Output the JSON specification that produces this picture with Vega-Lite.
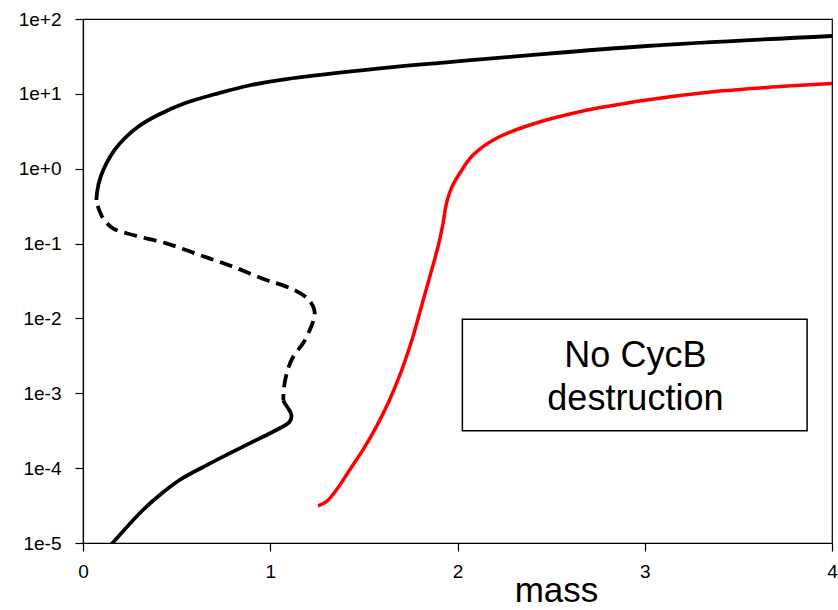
{
  "$schema": "https://vega.github.io/schema/vega-lite/v6.json",
  "width": 749,
  "height": 524,
  "autosize": {"type": "none"},
  "padding": {"left": 83, "top": 19, "right": 6, "bottom": 67},
  "background": "white",
  "config": {
    "view": {"stroke": "black", "strokeWidth": 1.2},
    "font": "Liberation Sans",
    "axis": {
      "grid": false,
      "domainColor": "black",
      "domainWidth": 1.2,
      "tickColor": "black",
      "tickWidth": 1.2,
      "tickSize": 8,
      "labelColor": "black",
      "labelFont": "Liberation Sans",
      "labelFontSize": 19,
      "labelFontWeight": "normal",
      "titleColor": "black",
      "titleFont": "Liberation Sans",
      "titleFontWeight": "normal"
    }
  },
  "data": {
    "values": [
      {"curve": "hi", "i": 1, "mass": 4.0, "cycB": 59.3},
      {"curve": "hi", "i": 2, "mass": 3.009, "cycB": 43.6},
      {"curve": "hi", "i": 3, "mass": 2.296, "cycB": 31.4},
      {"curve": "hi", "i": 4, "mass": 1.941, "cycB": 26.4},
      {"curve": "hi", "i": 5, "mass": 1.585, "cycB": 21.9},
      {"curve": "hi", "i": 6, "mass": 1.077, "cycB": 15.65},
      {"curve": "hi", "i": 7, "mass": 0.899, "cycB": 13.13},
      {"curve": "hi", "i": 8, "mass": 0.721, "cycB": 10.17},
      {"curve": "hi", "i": 9, "mass": 0.543, "cycB": 7.48},
      {"curve": "hi", "i": 10, "mass": 0.4005, "cycB": 5.22},
      {"curve": "hi", "i": 11, "mass": 0.294, "cycB": 3.64},
      {"curve": "hi", "i": 12, "mass": 0.2227, "cycB": 2.55},
      {"curve": "hi", "i": 13, "mass": 0.169, "cycB": 1.78},
      {"curve": "hi", "i": 14, "mass": 0.125, "cycB": 1.18},
      {"curve": "hi", "i": 15, "mass": 0.0945, "cycB": 0.782},
      {"curve": "hi", "i": 16, "mass": 0.0769, "cycB": 0.52},
      {"curve": "hi", "i": 17, "mass": 0.0716, "cycB": 0.382},
      {"curve": "mid", "i": 1, "mass": 0.0716, "cycB": 0.382},
      {"curve": "mid", "i": 2, "mass": 0.08, "cycB": 0.311},
      {"curve": "mid", "i": 3, "mass": 0.107, "cycB": 0.218},
      {"curve": "mid", "i": 4, "mass": 0.16, "cycB": 0.16},
      {"curve": "mid", "i": 5, "mass": 0.267, "cycB": 0.13},
      {"curve": "mid", "i": 6, "mass": 0.445, "cycB": 0.1007},
      {"curve": "mid", "i": 7, "mass": 0.623, "cycB": 0.0704},
      {"curve": "mid", "i": 8, "mass": 0.801, "cycB": 0.0491},
      {"curve": "mid", "i": 9, "mass": 0.979, "cycB": 0.0326},
      {"curve": "mid", "i": 10, "mass": 1.075, "cycB": 0.0272},
      {"curve": "mid", "i": 11, "mass": 1.14, "cycB": 0.0232},
      {"curve": "mid", "i": 12, "mass": 1.195, "cycB": 0.0188},
      {"curve": "mid", "i": 13, "mass": 1.227, "cycB": 0.0148},
      {"curve": "mid", "i": 14, "mass": 1.237, "cycB": 0.0122},
      {"curve": "mid", "i": 15, "mass": 1.232, "cycB": 0.0097},
      {"curve": "mid", "i": 16, "mass": 1.218, "cycB": 0.0077},
      {"curve": "mid", "i": 17, "mass": 1.175, "cycB": 0.00465},
      {"curve": "mid", "i": 18, "mass": 1.122, "cycB": 0.00308},
      {"curve": "mid", "i": 19, "mass": 1.088, "cycB": 0.00185},
      {"curve": "mid", "i": 20, "mass": 1.072, "cycB": 0.00111},
      {"curve": "mid", "i": 21, "mass": 1.07, "cycB": 0.0008},
      {"curve": "lo", "i": 1, "mass": 1.07, "cycB": 0.0008},
      {"curve": "lo", "i": 2, "mass": 1.0774, "cycB": 0.000735},
      {"curve": "lo", "i": 3, "mass": 1.098, "cycB": 0.000617},
      {"curve": "lo", "i": 4, "mass": 1.113, "cycB": 0.000513},
      {"curve": "lo", "i": 5, "mass": 1.104, "cycB": 0.000418},
      {"curve": "lo", "i": 6, "mass": 1.05, "cycB": 0.000341},
      {"curve": "lo", "i": 7, "mass": 0.944, "cycB": 0.00025},
      {"curve": "lo", "i": 8, "mass": 0.801, "cycB": 0.000166},
      {"curve": "lo", "i": 9, "mass": 0.659, "cycB": 0.000109},
      {"curve": "lo", "i": 10, "mass": 0.516, "cycB": 0.0000695},
      {"curve": "lo", "i": 11, "mass": 0.41, "cycB": 0.0000438},
      {"curve": "lo", "i": 12, "mass": 0.32, "cycB": 0.0000276},
      {"curve": "lo", "i": 13, "mass": 0.15, "cycB": 0.0000095},
      {"curve": "red", "i": 1, "mass": 1.255, "cycB": 0.0000313},
      {"curve": "red", "i": 2, "mass": 1.3, "cycB": 0.0000356},
      {"curve": "red", "i": 3, "mass": 1.353, "cycB": 0.000051},
      {"curve": "red", "i": 4, "mass": 1.424, "cycB": 0.0000944},
      {"curve": "red", "i": 5, "mass": 1.495, "cycB": 0.000175},
      {"curve": "red", "i": 6, "mass": 1.567, "cycB": 0.000358},
      {"curve": "red", "i": 7, "mass": 1.629, "cycB": 0.000735},
      {"curve": "red", "i": 8, "mass": 1.682, "cycB": 0.00151},
      {"curve": "red", "i": 9, "mass": 1.709, "cycB": 0.00227},
      {"curve": "red", "i": 10, "mass": 1.762, "cycB": 0.0057},
      {"curve": "red", "i": 11, "mass": 1.807, "cycB": 0.01435},
      {"curve": "red", "i": 12, "mass": 1.852, "cycB": 0.0361},
      {"curve": "red", "i": 13, "mass": 1.896, "cycB": 0.0908},
      {"curve": "red", "i": 14, "mass": 1.923, "cycB": 0.1866},
      {"curve": "red", "i": 15, "mass": 1.941, "cycB": 0.345},
      {"curve": "red", "i": 16, "mass": 1.967, "cycB": 0.547},
      {"curve": "red", "i": 17, "mass": 2.012, "cycB": 0.869},
      {"curve": "red", "i": 18, "mass": 2.083, "cycB": 1.52},
      {"curve": "red", "i": 19, "mass": 2.208, "cycB": 2.55},
      {"curve": "red", "i": 20, "mass": 2.386, "cycB": 3.84},
      {"curve": "red", "i": 21, "mass": 2.653, "cycB": 5.78},
      {"curve": "red", "i": 22, "mass": 3.009, "cycB": 8.28},
      {"curve": "red", "i": 23, "mass": 3.364, "cycB": 10.7},
      {"curve": "red", "i": 24, "mass": 3.721, "cycB": 12.5},
      {"curve": "red", "i": 25, "mass": 4.0, "cycB": 13.8}
    ]
  },
  "encoding": {
    "x": {
      "field": "mass",
      "type": "quantitative",
      "scale": {"domain": [0, 4], "nice": false, "zero": false},
      "axis": {
        "values": [0, 1, 2, 3, 4],
        "format": "d",
        "title": "mass",
        "titleFontSize": 35,
        "titleX": 473,
        "titleY": 58,
        "titleAlign": "center",
        "titleBaseline": "alphabetic",
        "labelPadding": 11,
        "labelFlush": false
      }
    },
    "y": {
      "field": "cycB",
      "type": "quantitative",
      "scale": {"type": "log", "domain": [0.00001, 100], "nice": false},
      "axis": {
        "values": [0.00001, 0.0001, 0.001, 0.01, 0.1, 1, 10, 100],
        "format": ".0e",
        "title": null,
        "labelPadding": 14,
        "labelFlush": false
      }
    }
  },
  "layer": [
    {
      "transform": [{"filter": "datum.curve === 'red' && datum.i === 1"}],
      "mark": {"type": "rect", "fill": "white", "stroke": "black", "strokeWidth": 1.5},
      "encoding": {
        "x": {"datum": 2.026},
        "x2": {"datum": 3.867},
        "y": {"datum": 0.00977},
        "y2": {"datum": 0.000316}
      }
    },
    {
      "transform": [{"filter": "datum.curve === 'red' && datum.i === 1"}],
      "mark": {
        "type": "text",
        "text": ["No CycB", "destruction"],
        "font": "Liberation Sans",
        "fontSize": 36,
        "lineHeight": 43.5,
        "align": "center",
        "baseline": "alphabetic",
        "fill": "black"
      },
      "encoding": {
        "x": {"datum": 2.95},
        "y": {"datum": 0.002265}
      }
    },
    {
      "transform": [{"filter": "datum.curve === 'hi' || datum.curve === 'lo'"}],
      "mark": {"type": "line", "color": "black", "strokeWidth": 3.8, "interpolate": "catmull-rom", "clip": true},
      "encoding": {
        "detail": {"field": "curve"},
        "order": {"field": "i", "type": "quantitative"}
      }
    },
    {
      "transform": [{"filter": "datum.curve === 'mid'"}],
      "mark": {"type": "line", "color": "black", "strokeWidth": 3.8, "strokeDash": [13, 7], "strokeDashOffset": -6, "interpolate": "catmull-rom", "clip": true},
      "encoding": {
        "order": {"field": "i", "type": "quantitative"}
      }
    },
    {
      "transform": [{"filter": "datum.curve === 'red'"}],
      "mark": {"type": "line", "color": "#ff0000", "strokeWidth": 3.5, "interpolate": "catmull-rom", "clip": true},
      "encoding": {
        "order": {"field": "i", "type": "quantitative"}
      }
    }
  ]
}
